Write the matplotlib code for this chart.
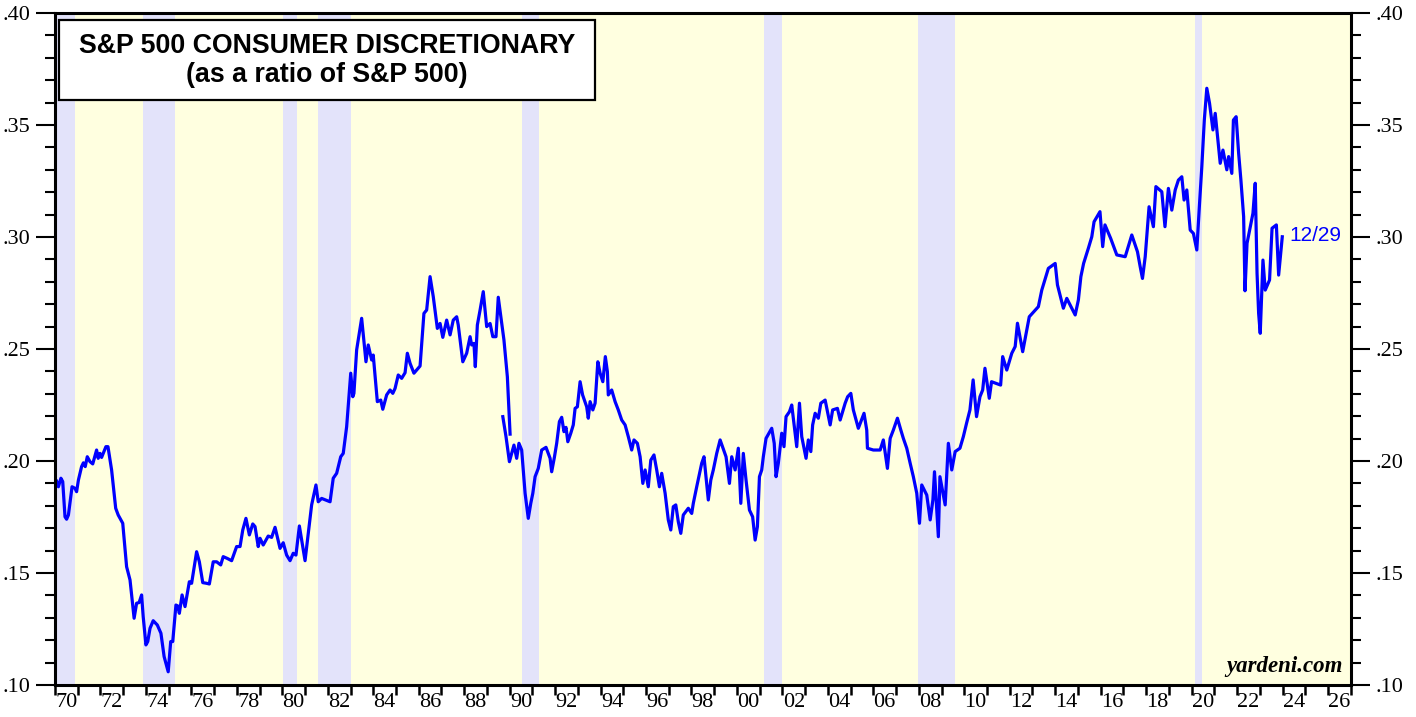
import matplotlib
matplotlib.use("Agg")
import matplotlib.pyplot as plt
from matplotlib.patches import Rectangle
from matplotlib.ticker import FixedLocator, MultipleLocator

# monthly ratio, 1970-1989
yrs_m = [1970.07, 1970.15, 1970.26, 1970.34, 1970.44, 1970.51, 1970.59, 1970.75, 1970.88, 1970.95,
         1971.03, 1971.17, 1971.25, 1971.33, 1971.42, 1971.54, 1971.66, 1971.83, 1971.9, 1971.98,
         1972.05, 1972.12, 1972.24, 1972.33, 1972.49, 1972.67, 1972.78, 1972.98, 1973.15, 1973.3,
         1973.48, 1973.59, 1973.7, 1973.81, 1973.88, 1974.0, 1974.08, 1974.18, 1974.32, 1974.5,
         1974.66, 1974.8, 1974.98, 1975.09, 1975.18, 1975.32, 1975.4, 1975.47, 1975.59, 1975.72,
         1975.91, 1976.01, 1976.23, 1976.35, 1976.5, 1976.67, 1976.79, 1976.96, 1977.11, 1977.29,
         1977.4, 1977.58, 1977.77, 1977.99, 1978.14, 1978.26, 1978.4, 1978.55, 1978.7, 1978.8,
         1978.94, 1979.02, 1979.16, 1979.38, 1979.53, 1979.68, 1979.9, 1980.04, 1980.19, 1980.34,
         1980.48, 1980.6, 1980.75, 1981.0, 1981.29, 1981.48, 1981.58, 1981.73, 1982.1, 1982.24,
         1982.39, 1982.57, 1982.68, 1982.83, 1983.01, 1983.1, 1983.15, 1983.27, 1983.49, 1983.68,
         1983.78, 1983.93, 1984.0, 1984.18, 1984.33, 1984.42, 1984.59, 1984.74, 1984.86, 1984.96,
         1985.1, 1985.25, 1985.4, 1985.5, 1985.62, 1985.79, 1986.06, 1986.23, 1986.35, 1986.5,
         1986.64, 1986.82, 1986.94, 1987.06, 1987.23, 1987.38, 1987.52, 1987.67, 1987.74, 1987.94,
         1988.11, 1988.26, 1988.33, 1988.43, 1988.49, 1988.58, 1988.7, 1988.84, 1988.99, 1989.14,
         1989.26, 1989.4, 1989.5, 1989.75, 1989.9, 1990.02]
ratio_m = [.191, .1885, .1923, .1908, .1751, .174, .1759, .1885, .1878, .1863,
           .1915, .1975, .1992, .1975, .2019, .1997, .1987, .2049, .2012, .2034,
           .2016, .2034, .2064, .2064, .196, .1789, .1759, .1722, .1528, .1469,
           .1298, .1365, .1368, .1402, .1305, .1179, .1194, .1253, .1287, .1268,
           .1231, .1127, .1059, .1194, .1194, .1357, .1353, .132, .1402, .135,
           .1461, .1454, .1595, .155, .1457, .1454, .1451, .155, .155, .1536,
           .1573, .1565, .1555, .1618, .1618, .1692, .1744, .167, .1719, .1707,
           .1618, .1655, .1625, .1665, .1659, .1704, .161, .1635, .158, .1555,
           .1588, .158, .171, .1555, .1804, .1893, .1818, .1833, .1818, .1923,
           .1945, .2019, .2034, .2153, .2392, .2287, .2302, .2496, .2637, .2443,
           .2518, .2451, .2473, .2265, .2272, .2231, .2295, .2317, .2302, .2324,
           .2384, .2369, .2394, .2481, .2436, .2392, .2424, .2659, .2674, .2823,
           .2734, .2592, .2614, .2552, .2629, .2563, .2629, .2644, .2607, .2443,
           .2481, .2555, .2518, .2525, .2421, .2607, .2674, .2756, .26, .2614,
           .2555, .2555, .2731, .254, .2376, .2120]

# weekly ratio, 1989-2023
yrs_w = [1989.7, 1989.84, 1989.99, 1990.09, 1990.19, 1990.31, 1990.41, 1990.53, 1990.68, 1990.82,
         1990.93, 1991.02, 1991.12, 1991.26, 1991.41, 1991.6, 1991.78, 1991.85, 1991.97, 1992.07,
         1992.19, 1992.29, 1992.39, 1992.48, 1992.56, 1992.69, 1992.8, 1992.88, 1992.98, 1993.1,
         1993.21, 1993.39, 1993.46, 1993.54, 1993.66, 1993.76, 1993.88, 1993.98, 1994.1, 1994.21,
         1994.3, 1994.34, 1994.49, 1994.64, 1994.78, 1994.93, 1995.08, 1995.22, 1995.37, 1995.47,
         1995.62, 1995.74, 1995.86, 1995.96, 1996.1, 1996.21, 1996.35, 1996.47, 1996.59, 1996.69,
         1996.84, 1996.98, 1997.09, 1997.2, 1997.31, 1997.42, 1997.53, 1997.64, 1997.86, 1998.01,
         1998.08, 1998.23, 1998.45, 1998.55, 1998.74, 1998.85, 1998.96, 1999.11, 1999.26, 1999.52,
         1999.67, 1999.77, 1999.92, 2000.06, 2000.17, 2000.28, 2000.4, 2000.55, 2000.69, 2000.8,
         2000.9, 2000.99, 2001.09, 2001.16, 2001.28, 2001.53, 2001.64, 2001.72, 2001.82, 2001.97,
         2002.07, 2002.16, 2002.31, 2002.41, 2002.63, 2002.75, 2002.85, 2003.04, 2003.14, 2003.25,
         2003.33, 2003.44, 2003.58, 2003.69, 2003.88, 2004.1, 2004.21, 2004.42, 2004.54, 2004.76,
         2004.87, 2005.01, 2005.12, 2005.34, 2005.59, 2005.71, 2005.74, 2006.0, 2006.3, 2006.44,
         2006.62, 2006.74, 2006.88, 2007.06, 2007.21, 2007.32, 2007.47, 2007.62, 2007.76, 2007.91,
         2008.03, 2008.13, 2008.35, 2008.5, 2008.62, 2008.69, 2008.86, 2008.93, 2009.16, 2009.3,
         2009.45, 2009.6, 2009.81, 2009.96, 2010.1, 2010.25, 2010.39, 2010.54, 2010.69, 2010.81,
         2010.91, 2011.1, 2011.2, 2011.6, 2011.69, 2011.87, 2012.09, 2012.24, 2012.34, 2012.57,
         2012.72, 2012.86, 2013.26, 2013.41, 2013.7, 2014.0, 2014.1, 2014.36, 2014.51, 2014.88,
         2015.02, 2015.13, 2015.25, 2015.46, 2015.61, 2015.71, 2015.97, 2016.09, 2016.19, 2016.44,
         2016.71, 2017.08, 2017.37, 2017.62, 2017.74, 2017.84, 2017.96, 2018.13, 2018.32, 2018.43,
         2018.69, 2018.83, 2018.98, 2019.13, 2019.28, 2019.42, 2019.57, 2019.67, 2019.79, 2019.94,
         2020.08, 2020.23, 2020.35, 2020.45, 2020.56, 2020.67, 2020.79, 2020.94, 2021.04, 2021.26,
         2021.38, 2021.55, 2021.63, 2021.77, 2021.84, 2021.96, 2022.07, 2022.17, 2022.29, 2022.35,
         2022.44, 2022.7, 2022.8, 2022.88, 2022.95, 2023.02, 2023.14, 2023.24, 2023.43, 2023.54,
         2023.73, 2023.83, 2023.99]
ratio_w = [.2198, .2109, .1997, .2034, .2071, .2012, .2079, .2049, .1856, .1744,
           .1811, .1856, .193, .1967, .2049, .2061, .2012, .1952, .2017, .2079,
           .2176, .2195, .2131, .215, .2086, .2124, .2161, .2235, .2242, .2354,
           .2295, .2242, .2191, .2265, .2228, .2258, .2443, .2392, .2354, .2466,
           .2399, .2295, .2317, .2265, .2228, .2183, .2161, .2109, .2049, .2094,
           .2079, .2019, .19, .196, .1885, .2004, .2027, .196, .1885, .1945,
           .1856, .1737, .1692, .1796, .1804, .1729, .1677, .1759, .1789, .1766,
           .1811, .1885, .199, .2019, .1826, .1915, .196, .2034, .2094, .2019,
           .19, .2019, .196, .2057, .1811, .2034, .1915, .1781, .1751, .1647,
           .1707, .193, .196, .2019, .2101, .2146, .2079, .193, .199, .2124,
           .2064, .2198, .222, .225, .2064, .2258, .2109, .2012, .2094, .2042,
           .2161, .2213, .2191, .2258, .2272, .2161, .2228, .2235, .2183, .2258,
           .2287, .2302, .2228, .2146, .2213, .2138, .2057, .2049, .2049, .2094,
           .1967, .2101, .2138, .2191, .2138, .2101, .2057, .199, .193, .1856,
           .1722, .1893, .1848, .1737, .1826, .1952, .1662, .193, .1804, .2079,
           .196, .2042, .2057, .2109, .2168, .2228, .2362, .2198, .2287, .2317,
           .2414, .228, .2354, .2339, .2466, .2406, .2481, .2511, .2615, .2488,
           .257, .2644, .2689, .2763, .286, .2882, .2786, .2682, .2726, .2652,
           .2719, .2823, .2882, .295, .3001, .3068, .3113, .2957, .3054, .2994,
           .292, .2912, .3009, .2934, .2867, .2815, .2912, .3135, .3046, .3225,
           .3202, .3046, .3217, .312, .321, .3254, .3269, .3165, .321, .3031,
           .3016, .2942, .3149, .3313, .3522, .3664, .3597, .3478, .3552, .3329,
           .3388, .33, .3359, .3284, .3522, .3537, .3374, .3254, .3091, .276,
           .2972, .3106, .324, .2838, .2659, .257, .2897, .2763, .2808, .3039,
           .3054, .283, .3001]

rec_start = [1969.92, 1973.85, 1980.05, 1981.55, 1990.55, 2001.2, 2007.95, 2020.15]
rec_end = [1970.9, 1975.28, 1980.65, 1983.0, 1991.3, 2001.98, 2009.6, 2020.46]

xticks_lab = list(range(1970, 2027, 2))
yticks_lab = [.10, .15, .20, .25, .30, .35, .40]

fig = plt.figure(figsize=(14.16, 7.17), dpi=100)
ax = fig.add_axes([55/1416, 1-685/717, (1350.7-55)/1416, (685-13)/717])
ax.set_facecolor('#FFFFE0')

for s, e in zip(rec_start, rec_end):
    ax.axvspan(s, e, color='#E3E3FA', lw=0, zorder=1)

ax.plot(yrs_m, ratio_m, color='#0000FF', lw=2.3, zorder=3)
ax.plot(yrs_w, ratio_w, color='#0000FF', lw=2.3, zorder=3)
ax.text(yrs_w[-1] + 0.3, ratio_w[-1] + 0.0005, '12/29', color='#0000FF',
        fontsize=15, family='Liberation Sans', va='center', ha='left', zorder=4)

ax.set_xlim(1970, 2027)
ax.set_ylim(0.10, 0.40)

# x: year boundaries get ticks, labels sit mid-year
ax.xaxis.set_major_locator(FixedLocator([y + 0.5 for y in xticks_lab]))
ax.set_xticklabels(['%02d' % (y % 100) for y in xticks_lab])
ax.xaxis.set_minor_locator(MultipleLocator(1))
ax.tick_params(axis='x', which='major', length=0, pad=6, labelsize=16)
ax.tick_params(axis='x', which='minor', length=7, width=1.8, direction='out')

ax.set_yticks(yticks_lab)
ax.set_yticklabels([('%.2f' % v)[1:] for v in yticks_lab])
ax.yaxis.set_minor_locator(MultipleLocator(0.01))
ax.tick_params(axis='y', which='major', length=14, width=1.5, direction='out',
               left=True, right=True, labelleft=True, labelright=True, labelsize=16, pad=4)
ax.tick_params(axis='y', which='minor', length=7, width=1.5, direction='out',
               left=True, right=True)

for lab in ax.get_xticklabels() + ax.get_yticklabels():
    lab.set_family('Liberation Serif')

for sp in ax.spines.values():
    sp.set_linewidth(2.2)
    sp.set_color('black')
    sp.set_zorder(5)

# title box
fig.patches.append(Rectangle((59/1416, 1-100/717), 536/1416, 80/717, transform=fig.transFigure,
                             facecolor='white', edgecolor='black', lw=1.6, zorder=6))
fig.text(327/1416, 1-46/717, 'S&P 500 CONSUMER DISCRETIONARY', ha='center', va='center',
         fontsize=19.3, fontweight='bold', family='Liberation Sans', zorder=7)
fig.text(327/1416, 1-75/717, '(as a ratio of S&P 500)', ha='center', va='center',
         fontsize=19.3, fontweight='bold', family='Liberation Sans', zorder=7)

ax.text(0.9935, 0.012, 'yardeni.com', transform=ax.transAxes, ha='right', va='bottom',
        fontsize=16.5, fontweight='bold', style='italic', family='Liberation Serif', zorder=4)

fig.savefig('out.png', dpi=100)
